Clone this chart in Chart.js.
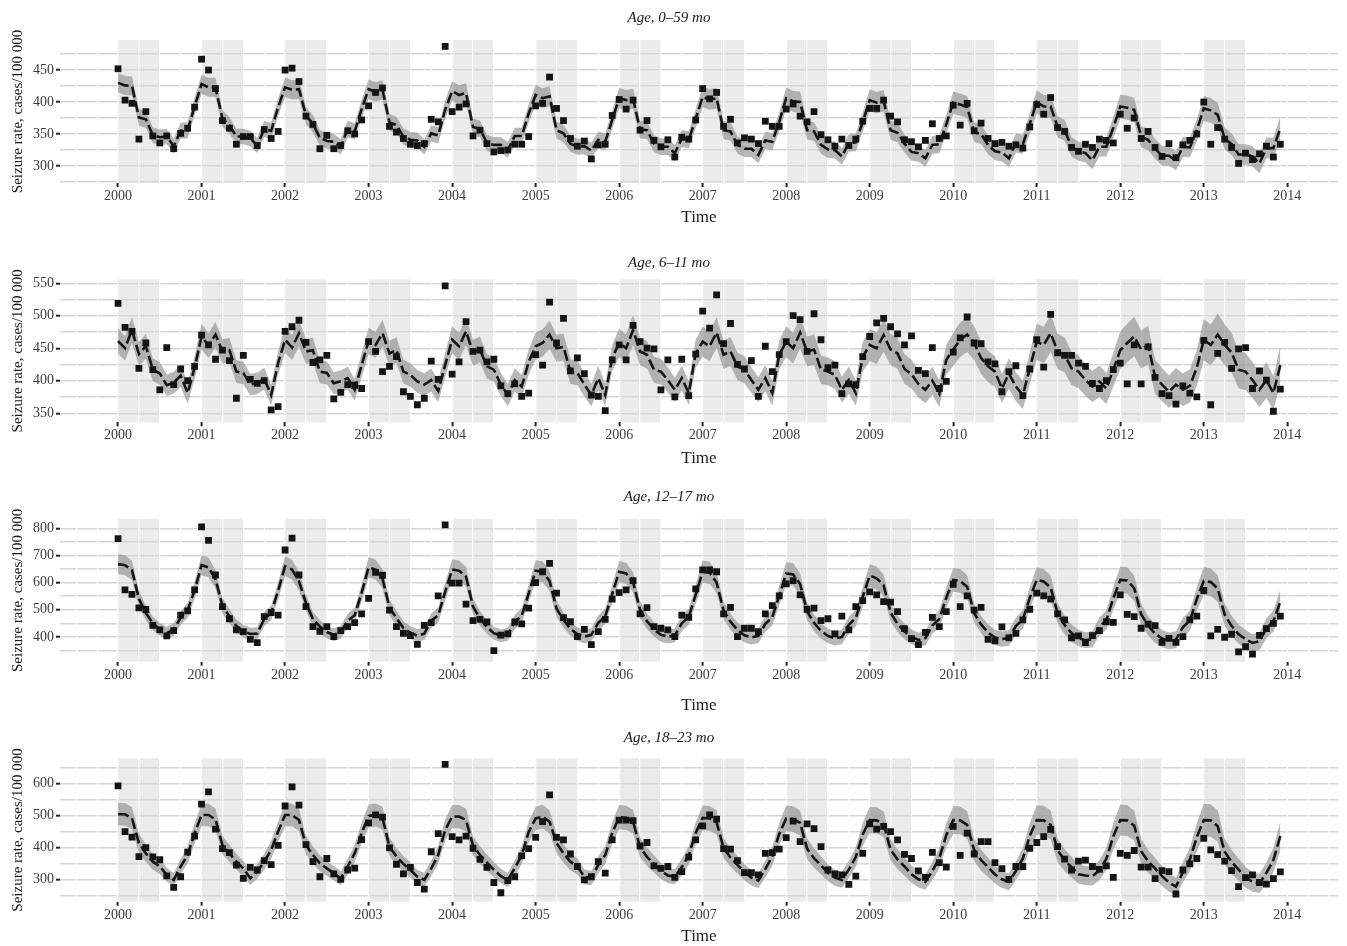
<!DOCTYPE html>
<html>
<head>
<meta charset="utf-8">
<script src="https://cdn.jsdelivr.net/npm/chart.js@4.4.1/dist/chart.umd.min.js"></script>
<style>
  html, body { margin: 0; padding: 0; background: #fff; overflow: hidden; width: 1347px; height: 946px; }
  .panel { position: absolute; left: 0; }
</style>
</head>
<body>
<div class="panel" id="w1"><canvas id="c1"></canvas></div>
<div class="panel" id="w2"><canvas id="c2"></canvas></div>
<div class="panel" id="w3"><canvas id="c3"></canvas></div>
<div class="panel" id="w4"><canvas id="c4"></canvas></div>
<script>
const years = [2000, 2001, 2002, 2003, 2004, 2005, 2006, 2007, 2008, 2009, 2010, 2011, 2012, 2013];
const xTickLabels = [2000, 2001, 2002, 2003, 2004, 2005, 2006, 2007, 2008, 2009, 2010, 2011, 2012, 2013, 2014];
// Jan-Jun of each year is shaded
const shadeStarts = [2000, 2001, 2002, 2003, 2004, 2005, 2006, 2007, 2008, 2009, 2010, 2011, 2012, 2013];

// ---- Age 0-59 mo ----
const obs0_59 = [
  452,403,398,342,385,347,336,347,327,351,359,392,
  467,450,421,371,359,334,346,346,332,357,343,354,
  450,453,432,378,365,327,348,327,332,355,350,372,
  394,415,422,362,353,343,334,332,335,373,369,487,
  385,392,397,347,356,335,322,324,325,334,334,346,
  394,398,439,390,371,343,331,339,311,333,334,379,
  404,389,403,356,371,340,330,341,314,345,342,372,
  421,405,415,362,373,336,344,342,335,370,362,362,
  389,397,378,369,385,349,341,331,342,332,342,370,
  390,390,403,378,369,341,338,330,340,366,343,347,
  395,364,398,355,367,343,335,337,331,333,328,361,
  396,381,407,360,354,329,323,334,329,342,340,336,
  381,359,375,343,354,329,315,335,313,333,340,350,
  400,334,360,342,329,304,320,310,319,331,314,334
];
const fit0_59 = [
  430,426,425,376,373,348,345,346,331,355,356,393,
  428,423,423,374,364,346,346,343,332,358,355,392,
  423,419,420,379,366,344,339,338,330,358,354,389,
  420,416,419,368,364,346,341,340,330,351,348,388,
  417,411,414,361,358,336,333,333,325,347,347,382,
  411,406,409,356,351,335,330,331,324,341,338,372,
  406,403,405,357,356,335,330,330,320,343,341,374,
  408,404,406,356,354,333,327,327,317,340,338,369,
  406,401,400,356,354,333,326,325,315,336,337,369,
  403,399,402,356,352,335,322,320,312,333,334,365,
  399,396,392,353,350,333,323,321,312,336,334,366,
  400,393,393,361,356,330,323,320,309,330,330,360,
  393,391,388,346,341,327,316,316,308,330,329,356,
  390,387,380,343,334,318,318,315,304,328,328,359
];
const band0_59 = [0.035,0.035,0.036,0.036,0.037,0.038,0.039,0.040,0.041,0.042,0.044,0.046,0.048,0.050];

// ---- Age 6-11 mo ----
const obs6_11 = [
  519,482,476,419,458,417,386,451,394,418,400,422,
  470,455,433,447,431,373,439,402,396,400,355,360,
  476,483,493,459,428,432,439,372,382,394,393,388,
  460,445,414,422,437,383,376,363,373,430,402,546,
  410,429,491,445,447,429,433,392,380,395,376,381,
  440,424,521,458,496,415,435,411,378,376,354,432,
  455,432,485,460,450,449,386,432,375,433,377,441,
  507,481,532,457,488,425,418,431,376,453,414,440,
  460,500,494,445,503,463,420,424,380,395,394,437,
  468,489,496,483,472,455,469,416,411,451,388,399,
  444,466,498,458,457,429,426,383,414,423,377,418,
  463,421,502,443,439,439,427,422,396,388,400,417,
  427,395,455,395,452,405,380,377,364,392,381,375,
  462,363,442,459,419,449,451,388,415,401,353,387
];
const fit6_11 = [
  461,450,478,441,453,417,411,393,397,408,381,420,
  468,454,471,445,447,414,412,394,396,403,378,427,
  463,451,473,445,447,414,412,396,399,404,386,424,
  461,455,473,442,447,414,409,399,394,401,384,424,
  463,453,476,443,448,422,417,394,378,401,391,429,
  453,458,471,450,452,414,412,394,378,404,378,435,
  458,450,478,445,440,417,414,401,386,404,381,442,
  460,453,474,440,445,422,417,401,386,404,381,440,
  460,450,474,445,448,417,414,409,386,401,381,437,
  455,450,470,448,442,418,410,395,386,400,380,432,
  448,463,471,458,435,422,414,388,411,391,378,419,
  460,455,473,445,440,419,414,401,391,399,388,417,
  447,458,468,448,455,406,394,383,394,386,392,420,
  463,455,471,455,443,417,414,401,386,401,381,424
];
const band6_11 = [0.042,0.042,0.043,0.044,0.045,0.046,0.048,0.050,0.052,0.054,0.057,0.061,0.065,0.069];

// ---- Age 12-17 mo ----
const obs12_17 = [
  762,573,557,507,501,443,426,404,423,480,496,573,
  805,755,628,512,467,426,420,391,379,475,490,480,
  720,764,628,512,438,421,438,401,423,438,453,485,
  542,638,627,499,438,413,405,373,443,453,551,812,
  598,598,521,460,465,455,350,407,411,455,448,506,
  600,640,671,561,471,456,401,428,372,420,465,539,
  563,573,607,485,508,438,432,426,401,480,472,577,
  647,647,640,485,509,401,432,432,420,485,515,551,
  595,607,555,502,506,460,467,411,477,426,512,534,
  566,555,530,528,493,431,394,372,417,472,438,493,
  594,512,551,499,509,391,386,437,397,413,463,502,
  561,551,539,485,463,397,404,379,405,423,456,454,
  555,483,475,432,447,442,380,395,380,401,463,477,
  571,404,428,399,410,345,364,337,406,431,450,477
];
const fit12_17 = [
  668,664,646,540,488,450,428,414,428,470,498,572,
  664,656,612,515,476,440,421,411,413,466,488,570,
  660,648,605,525,466,438,418,408,418,460,480,562,
  656,648,614,508,470,433,416,405,412,460,480,566,
  648,644,622,512,468,436,414,404,410,455,478,560,
  644,640,606,505,462,430,410,401,408,452,476,558,
  640,634,602,500,458,428,408,401,406,450,474,556,
  640,636,600,498,456,426,406,398,404,448,472,552,
  634,630,595,494,452,422,404,395,400,445,470,548,
  626,616,590,490,448,420,400,389,396,442,466,544,
  610,606,585,488,446,416,398,392,396,440,464,544,
  610,604,582,486,444,414,396,388,392,438,462,542,
  610,608,580,484,442,412,394,386,390,436,460,540,
  606,602,578,482,440,410,392,378,384,432,458,530
];
const band12_17 = [0.055,0.055,0.056,0.057,0.058,0.060,0.062,0.064,0.066,0.068,0.072,0.076,0.080,0.085];

// ---- Age 18-23 mo ----
const obs18_23 = [
  592,449,432,371,399,370,361,311,275,308,385,435,
  535,573,457,396,383,344,303,337,329,358,346,406,
  529,589,532,408,355,308,365,317,300,329,335,424,
  476,501,494,398,347,317,337,290,269,386,443,659,
  433,423,435,397,362,337,290,258,296,308,373,396,
  431,480,564,431,423,379,340,298,308,355,319,423,
  485,485,483,404,415,342,334,340,306,324,369,423,
  467,501,488,396,394,358,321,321,314,381,383,394,
  430,482,418,473,458,402,329,317,314,284,310,381,
  473,457,465,449,423,378,365,326,306,384,352,338,
  465,375,444,379,418,418,352,333,300,340,340,397,
  415,433,456,402,363,329,357,360,340,331,342,306,
  381,375,390,338,338,302,327,324,254,329,348,365,
  428,392,377,357,327,277,305,314,290,285,302,323
];
const fit18_23 = [
  503,503,491,413,381,355,340,314,298,340,376,444,
  501,501,487,407,381,355,334,303,324,355,392,449,
  501,501,485,407,376,350,334,319,303,340,381,444,
  498,501,491,402,371,348,329,308,298,334,376,454,
  496,496,485,405,376,352,330,310,298,335,375,448,
  490,496,480,413,381,355,340,308,303,345,376,444,
  494,492,480,400,370,348,326,312,308,338,375,445,
  492,490,478,398,368,345,322,305,296,332,372,442,
  490,488,476,396,366,344,320,305,298,330,370,440,
  485,484,472,392,362,340,316,300,292,326,366,438,
  485,484,470,392,360,338,315,300,292,326,365,436,
  485,484,470,390,360,338,316,312,310,328,364,434,
  485,484,468,388,356,334,310,290,277,322,362,432,
  485,484,466,386,354,330,306,292,287,320,360,435
];
const band18_23 = [0.070,0.070,0.071,0.072,0.073,0.075,0.077,0.079,0.082,0.085,0.090,0.095,0.100,0.105];

const serif = "'Liberation Serif', 'DejaVu Serif', serif";

const shadePlugin = {
  id: 'shade',
  beforeDraw(chart) {
    const { ctx, chartArea: a, scales: { x } } = chart;
    ctx.save();
    ctx.fillStyle = '#ebebeb';
    shadeStarts.forEach((s) => {
      const x0 = x.getPixelForValue(s);
      const x1 = x.getPixelForValue(s + 0.5);
      ctx.fillRect(x0, a.top, x1 - x0, a.bottom - a.top);
    });
    ctx.restore();
  },
};

function makePanel(n, p) {
  const top = p.titleY - 20;
  const xH = p.timeY - p.areaBottom + 14;
  const height = Math.round(p.areaBottom + xH - top);
  const wrap = document.getElementById('w' + n);
  wrap.style.top = top + 'px';
  const canvas = document.getElementById('c' + n);
  canvas.width = 1347;
  canvas.height = height;

  const obs = [], fit = [], hi = [], lo = [];
  p.observed.forEach((v, i) => {
    const yr = Math.floor(i / 12);
    const x = years[yr] + (i % 12) / 12;
    obs.push({ x, y: v });
    fit.push({ x, y: p.fitted[i] });
    hi.push({ x, y: p.fitted[i] * (1 + p.band[yr]) });
    lo.push({ x, y: p.fitted[i] * (1 - p.band[yr]) });
  });

  const isLab = (v) => v % p.labelStep === 0 && v >= p.labelMin && v <= p.labelMax;
  const isYear = (v) => xTickLabels.includes(v);

  new Chart(canvas, {
    type: 'line',
    data: {
      datasets: [
        {
          data: obs,
          showLine: false,
          pointStyle: 'rect',
          pointRadius: 4.8,
          pointBackgroundColor: '#141414',
          pointBorderWidth: 0,
        },
        {
          data: fit,
          borderColor: '#141414',
          borderWidth: 2.6,
          borderDash: [11, 4],
          pointRadius: 0,
          tension: 0,
          fill: false,
        },
        {
          data: hi,
          borderWidth: 0,
          pointRadius: 0,
          fill: '+1',
          backgroundColor: 'rgba(140,140,140,0.62)',
        },
        {
          data: lo,
          borderWidth: 0,
          pointRadius: 0,
          fill: false,
        },
      ],
    },
    options: {
      responsive: false,
      animation: false,
      devicePixelRatio: 1,
      layout: { padding: { left: 0, right: 9, top: 0, bottom: 0 } },
      plugins: {
        legend: { display: false },
        tooltip: { enabled: false },
        title: {
          display: true,
          text: p.title,
          color: '#1a1a1a',
          font: { family: serif, size: 15, style: 'italic', weight: 'normal' },
          padding: { top: 11, bottom: p.areaTop - top - 29 },
        },
      },
      scales: {
        x: {
          type: 'linear',
          min: 1999.305,
          max: 2014.607,
          afterFit: (s) => { s.height = xH; },
          afterBuildTicks: (s) => {
            const t = [];
            for (let i = 0; i <= 60; i++) t.push({ value: 1999.5 + i * 0.25 });
            s.ticks = t;
          },
          ticks: {
            autoSkip: false,
            maxRotation: 0,
            padding: 1,
            color: '#3d3d3d',
            font: { family: serif, size: 14 },
            callback: (v) => (isYear(v) ? String(v) : ''),
          },
          grid: {
            z: -1,
            color: '#ffffff',
            lineWidth: 1.2,
            tickLength: 4,
            tickWidth: 2,
            tickColor: (c) => (c.tick && isYear(c.tick.value) ? '#222' : 'rgba(0,0,0,0)'),
          },
          border: { display: false },
          title: {
            display: true,
            text: 'Time',
            color: '#1a1a1a',
            font: { family: serif, size: 17 },
            padding: { top: 0, bottom: Math.max(0, p.areaBottom + xH - p.timeY - 10.2) },
          },
        },
        y: {
          min: p.yMin,
          max: p.yMax,
          afterFit: (s) => { s.width = 60; },
          afterBuildTicks: (s) => {
            const t = [];
            for (let v = Math.ceil(p.yMin / p.gridStep) * p.gridStep; v <= p.yMax; v += p.gridStep) t.push({ value: v });
            s.ticks = t;
          },
          ticks: {
            autoSkip: false,
            padding: 2,
            color: '#3d3d3d',
            font: { family: serif, size: 14 },
            callback: (v) => (isLab(v) ? String(v) : ''),
          },
          grid: {
            z: -2,
            color: '#d6d6d6',
            lineWidth: 1.4,
            tickLength: 4,
            tickWidth: 2,
            tickColor: (c) => (c.tick && isLab(c.tick.value) ? '#222' : 'rgba(0,0,0,0)'),
          },
          border: { display: false },
          title: {
            display: true,
            text: 'Seizure rate, cases/100 000',
            color: '#1a1a1a',
            font: { family: serif, size: 15 },
            padding: { top: 9, bottom: 0 },
          },
        },
      },
    },
    plugins: [shadePlugin],
  });
}

makePanel(1, {
  title: 'Age, 0–59 mo', observed: obs0_59, fitted: fit0_59, band: band0_59,
  titleY: 18, areaTop: 40, areaBottom: 183, timeY: 218,
  yMin: 273.4, yMax: 497, gridStep: 25, labelStep: 50, labelMin: 300, labelMax: 450,
});
makePanel(2, {
  title: 'Age, 6–11 mo', observed: obs6_11, fitted: fit6_11, band: band6_11,
  titleY: 263, areaTop: 279.3, areaBottom: 422.3, timeY: 459,
  yMin: 336, yMax: 556, gridStep: 25, labelStep: 50, labelMin: 350, labelMax: 550,
});
makePanel(3, {
  title: 'Age, 12–17 mo', observed: obs12_17, fitted: fit12_17, band: band12_17,
  titleY: 497, areaTop: 519, areaBottom: 661.7, timeY: 706,
  yMin: 309, yMax: 834, gridStep: 50, labelStep: 100, labelMin: 400, labelMax: 800,
});
makePanel(4, {
  title: 'Age, 18–23 mo', observed: obs18_23, fitted: fit18_23, band: band18_23,
  titleY: 738, areaTop: 758.3, areaBottom: 901.7, timeY: 937,
  yMin: 230, yMax: 678, gridStep: 50, labelStep: 100, labelMin: 300, labelMax: 600,
});
</script>
</body>
</html>
